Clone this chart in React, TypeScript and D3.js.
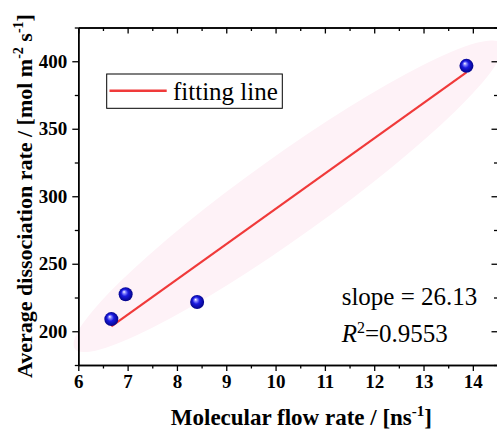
import React, { useEffect, useRef } from "react";
import * as d3 from "d3";

const flowRate = [6.67, 6.96, 8.41, 13.87];
const dissociationRate = [209, 227.4, 221.7, 396.6];
const fitSlope = 26.13;
const fitIntercept = 29.3;
const rSquared = "0.9553";
const xMajorTicks = [6, 7, 8, 9, 10, 11, 12, 13, 14];
const xMinorTicks = [6.5, 7.5, 8.5, 9.5, 10.5, 11.5, 12.5, 13.5, 14.5];
const yMajorTicks = [200, 250, 300, 350, 400];
const yMinorTicks = [175, 225, 275, 325, 375, 425];
const ellipseCenter = [10.25, 300];

const W = 497;
const H = 433;

export default function App() {
  const ref = useRef<SVGSVGElement>(null);

  useEffect(() => {
    const svg = d3.select(ref.current);
    svg.selectAll("*").remove();

    const x = d3.scaleLinear().domain([6, 14.5]).range([78.3, 497.5]);
    const y = d3.scaleLinear().domain([175, 425]).range([365, 27.5]);

    const defs = svg.append("defs");
    const grad = defs
      .append("radialGradient")
      .attr("id", "ball")
      .attr("cx", "50%")
      .attr("cy", "50%")
      .attr("r", "55%")
      .attr("fx", "38%")
      .attr("fy", "32%");
    grad.append("stop").attr("offset", "0%").attr("stop-color", "#ffffff");
    grad.append("stop").attr("offset", "18%").attr("stop-color", "#8c8cff");
    grad.append("stop").attr("offset", "45%").attr("stop-color", "#1a1ae0");
    grad.append("stop").attr("offset", "100%").attr("stop-color", "#00007a");

    // Ellipse (confidence band) drawn along the fit line direction
    const cx = x(ellipseCenter[0]);
    const cy = y(ellipseCenter[1]);
    const pxSlope = (y(fitSlope * 13 + fitIntercept) - y(fitSlope * 7 + fitIntercept)) / (x(13) - x(7));
    const angle = (Math.atan(pxSlope) * 180) / Math.PI;
    svg
      .append("ellipse")
      .attr("cx", cx)
      .attr("cy", cy)
      .attr("rx", 262)
      .attr("ry", 40)
      .attr("transform", `rotate(${angle} ${cx} ${cy})`)
      .attr("fill", "#fef2f7");

    // Fit line
    const xMin = d3.min(flowRate)!;
    const xMax = d3.max(flowRate)!;
    svg
      .append("line")
      .attr("x1", x(xMin))
      .attr("y1", y(fitSlope * xMin + fitIntercept))
      .attr("x2", x(xMax))
      .attr("y2", y(fitSlope * xMax + fitIntercept))
      .attr("stroke", "#f03a3a")
      .attr("stroke-width", 2.2);

    // Points
    svg
      .append("g")
      .selectAll("circle")
      .data(flowRate.map((v, i) => [v, dissociationRate[i]]))
      .join("circle")
      .attr("cx", (d) => x(d[0]))
      .attr("cy", (d) => y(d[1]))
      .attr("r", 7)
      .attr("fill", "url(#ball)");

    const font = "'Liberation Serif', 'Times New Roman', serif";

    const styleAxis = (g: any) => {
      g.attr("font-family", font);
      g.selectAll("path").attr("stroke", "#000").attr("stroke-width", 1.5);
      g.selectAll("line").attr("stroke", "#000").attr("stroke-width", 1.3);
      g.selectAll("text")
        .style("font-family", font)
        .style("font-weight", "bold")
        .style("font-size", "19px")
        .attr("fill", "#000");
    };

    // Bottom axis
    const gb = svg.append("g").attr("transform", `translate(0,${y(175)})`);
    gb.call(d3.axisBottom(x).tickValues(xMajorTicks).tickSize(6).tickSizeOuter(0).tickPadding(4).tickFormat(d3.format("d")));
    gb.append("g").call(d3.axisBottom(x).tickValues(xMinorTicks).tickSize(3.5).tickSizeOuter(0).tickFormat(() => ""));
    styleAxis(gb);

    // Top axis
    const gt = svg.append("g").attr("transform", `translate(0,${y(425)})`);
    gt.call(d3.axisTop(x).tickValues(xMajorTicks).tickSize(-6).tickSizeOuter(0).tickFormat(() => ""));
    gt.append("g").call(d3.axisTop(x).tickValues(xMinorTicks).tickSize(-3.5).tickSizeOuter(0).tickFormat(() => ""));
    styleAxis(gt);

    // Left axis
    const gl = svg.append("g").attr("transform", `translate(${x(6)},0)`);
    gl.call(d3.axisLeft(y).tickValues(yMajorTicks).tickSize(6).tickSizeOuter(0).tickPadding(5).tickFormat(d3.format("d")));
    gl.append("g").call(d3.axisLeft(y).tickValues(yMinorTicks).tickSize(3.5).tickSizeOuter(0).tickFormat(() => ""));
    styleAxis(gl);

    // Right axis
    const gr = svg.append("g").attr("transform", `translate(${x(14.5)},0)`);
    gr.call(d3.axisRight(y).tickValues(yMajorTicks).tickSize(-6).tickSizeOuter(0).tickFormat(() => ""));
    gr.append("g").call(d3.axisRight(y).tickValues(yMinorTicks).tickSize(-3.5).tickSizeOuter(0).tickFormat(() => ""));
    styleAxis(gr);

    // Legend
    const lg = svg.append("g");
    lg.append("rect")
      .attr("x", 106.7)
      .attr("y", 74)
      .attr("width", 175.6)
      .attr("height", 34.3)
      .attr("fill", "#fff")
      .attr("stroke", "#000")
      .attr("stroke-width", 1);
    lg.append("line")
      .attr("x1", 109.5)
      .attr("x2", 166.7)
      .attr("y1", 90.7)
      .attr("y2", 90.7)
      .attr("stroke", "#f03a3a")
      .attr("stroke-width", 2.5);
    lg.append("text")
      .attr("x", 173)
      .attr("y", 99.5)
      .attr("font-family", font)
      .attr("font-size", 25)
      .text("fitting line");

    // Annotation
    svg
      .append("text")
      .attr("x", 341.7)
      .attr("y", 305)
      .attr("font-family", font)
      .attr("font-size", 25)
      .text(`slope = ${fitSlope}`);
    const r2 = svg
      .append("text")
      .attr("x", 341.7)
      .attr("y", 341.7)
      .attr("font-family", font)
      .attr("font-size", 25);
    r2.append("tspan").attr("font-style", "italic").text("R");
    r2.append("tspan").attr("font-size", 16).attr("dy", -9).text("2");
    r2.append("tspan").attr("dy", 9).text(`=${rSquared}`);

    // X title
    const xt = svg
      .append("text")
      .attr("x", 301.4)
      .attr("y", 425)
      .attr("text-anchor", "middle")
      .attr("font-family", font)
      .attr("font-weight", "bold")
      .attr("font-size", 23);
    xt.append("tspan").text("Molecular flow rate / [ns");
    xt.append("tspan").attr("font-size", 15).attr("dy", -9).text("-1");
    xt.append("tspan").attr("dy", 9).text("]");

    // Y title
    const yt = svg
      .append("text")
      .attr("transform", `translate(32,196) rotate(-90)`)
      .attr("text-anchor", "middle")
      .attr("font-family", font)
      .attr("font-weight", "bold")
      .attr("font-size", 22);
    yt.append("tspan").text("Average dissociation rate / [mol m");
    yt.append("tspan").attr("font-size", 14).attr("dy", -9).text("-2");
    yt.append("tspan").attr("dy", 9).text(" s");
    yt.append("tspan").attr("font-size", 14).attr("dy", -9).text("-1");
    yt.append("tspan").attr("dy", 9).text("]");
  }, []);

  return (
    <svg
      ref={ref}
      width={W}
      height={H}
      style={{ position: "absolute", left: 0, top: 0, background: "#fff" }}
    />
  );
}
